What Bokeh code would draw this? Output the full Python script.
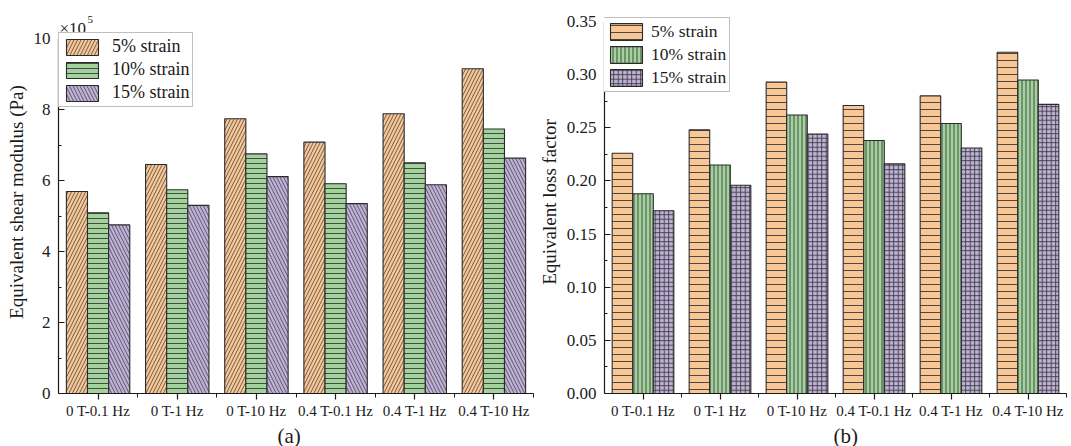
from bokeh.plotting import figure
from bokeh.models import ColumnDataSource, Range1d, FixedTicker, Legend, LegendItem, Label, Title
from bokeh.transform import dodge
from bokeh.layouts import row
from bokeh.embed import file_html
from bokeh.resources import INLINE

categories = ["0 T-0.1 Hz", "0 T-1 Hz", "0 T-10 Hz", "0.4 T-0.1 Hz", "0.4 T-1 Hz", "0.4 T-10 Hz"]
series = ["5% strain", "10% strain", "15% strain"]

# Equivalent shear modulus, in units of 10^5 Pa
shear_5 = [5.69, 6.45, 7.74, 7.08, 7.88, 9.15]
shear_10 = [5.09, 5.74, 6.75, 5.91, 6.50, 7.45]
shear_15 = [4.75, 5.30, 6.11, 5.35, 5.88, 6.63]

# Equivalent loss factor
loss_5 = [0.226, 0.248, 0.293, 0.271, 0.280, 0.321]
loss_10 = [0.188, 0.215, 0.262, 0.238, 0.254, 0.295]
loss_15 = [0.172, 0.196, 0.244, 0.216, 0.231, 0.272]

shear_ticks = [0, 2, 4, 6, 8, 10]
shear_minor = [1, 3, 5, 7, 9]
loss_ticks = [0.00, 0.05, 0.10, 0.15, 0.20, 0.25, 0.30, 0.35]
loss_tick_labels = ["0.00", "0.05", "0.10", "0.15", "0.20", "0.25", "0.30", "0.35"]
loss_minor = [0.025, 0.075, 0.125, 0.175, 0.225, 0.275, 0.325]

FONT = "Liberation Serif"
INK = "#1a1a1a"
FILLS = ["#F9C796", "#A3D39C", "#BFB1D9"]
HATCH = "#3a3a3a"
BAR_W = 0.267

TOP = 10          # shared top border
FRAME_H = 383     # shared frame height

xs = [i + 0.5 for i in range(len(categories))]
x_overrides = {x: c for x, c in zip(xs, categories)}
x_minor = [i for i in range(1, len(categories) + 1)]


def base_fig(fw, bl, br, y_top, axis_px):
    # axis_px: pixel length of the drawn axis (0 .. y_top)
    y_end = y_top * FRAME_H / axis_px
    p = figure(frame_width=fw, frame_height=FRAME_H, output_backend="svg", toolbar_location=None,
               x_range=Range1d(0, len(categories)), y_range=Range1d(0, y_end),
               min_border_left=bl, min_border_right=br, min_border_top=TOP, min_border_bottom=53)
    p.outline_line_color = None
    p.xgrid.visible = False
    p.ygrid.visible = False
    p.background_fill_color = "white"
    p.border_fill_color = "white"
    xa = p.xaxis[0]
    ya = p.yaxis[0]
    xa.ticker = FixedTicker(ticks=xs, minor_ticks=x_minor)
    xa.major_label_overrides = x_overrides
    ya.bounds = (0, y_top)
    for ax in (xa, ya):
        ax.axis_line_color = INK
        ax.axis_line_width = 1.2
        ax.major_tick_line_color = INK
        ax.minor_tick_line_color = INK
        ax.major_tick_line_width = 1.2
        ax.minor_tick_line_width = 1.0
        ax.major_label_text_font = FONT
        ax.major_label_text_color = INK
        ax.axis_label_text_font = FONT
        ax.axis_label_text_font_style = "normal"
        ax.axis_label_text_color = INK
    xa.major_tick_in = 0
    xa.major_tick_out = 6
    xa.minor_tick_in = 0
    xa.minor_tick_out = 4
    ya.major_tick_in = 6
    ya.major_tick_out = 0
    ya.minor_tick_in = 3
    ya.minor_tick_out = 0
    xa.major_label_text_font_size = "15px"
    xa.major_label_standoff = 3
    ya.major_label_text_font_size = "17px"
    ya.major_label_standoff = 8
    ya.axis_label_text_font_size = "19px"
    ya.axis_label_standoff = 4
    return p


def add_bars(p, values, hatches, scales, weights):
    renderers = []
    offsets = [-BAR_W, 0.0, BAR_W]
    for vals, off, fill, hp, hs, hw in zip(values, offsets, FILLS, hatches, scales, weights):
        src = ColumnDataSource(dict(x=xs, top=vals))
        r = p.vbar(x=dodge("x", off), top="top", bottom=0, width=BAR_W, source=src,
                   fill_color=fill, line_color="#2a2a2a", line_width=1.1,
                   hatch_pattern=hp, hatch_color=HATCH, hatch_weight=hw, hatch_scale=hs)
        renderers.append(r)
    return renderers


def add_legend(p, renderers, loc, font_size, gh, standoff):
    items = [LegendItem(label=s, renderers=[r]) for s, r in zip(series, renderers)]
    lg = Legend(items=items, location=loc, margin=0, padding=3, spacing=2,
                glyph_width=40, glyph_height=gh, label_height=gh, label_standoff=standoff,
                label_text_font=FONT, label_text_font_size=font_size, label_text_color=INK,
                border_line_color="#808080", border_line_width=1,
                background_fill_color="white", background_fill_alpha=1.0)
    p.add_layout(lg)


def add_tag(p, text, offset):
    t = Title(text=text, align="left", offset=offset, standoff=0,
              text_font=FONT, text_font_size="21px", text_font_style="normal", text_color=INK)
    p.add_layout(t, "below")


# ---- (a) shear modulus
p1 = base_fig(475, 58, 2, shear_ticks[-1], 355)
p1.yaxis[0].ticker = FixedTicker(ticks=shear_ticks, minor_ticks=shear_minor)
p1.yaxis[0].axis_label = "Equivalent shear modulus (Pa)"
r1 = add_bars(p1, [shear_5, shear_10, shear_15], ["/", "-", "\\"], [7, 5, 7], [0.75, 0.9, 0.75])
add_legend(p1, r1, (0, 286), "18px", 20, 10)
p1.add_layout(Label(x=0, y=shear_ticks[-1], x_offset=1, y_offset=10, text="\u00d710",
                    text_font=FONT, text_font_size="17px", text_color=INK,
                    text_baseline="alphabetic"))
p1.add_layout(Label(x=0, y=shear_ticks[-1], x_offset=29, y_offset=19, text="5",
                    text_font=FONT, text_font_size="11px", text_color=INK,
                    text_baseline="alphabetic"))
add_tag(p1, "(a)", 219)

# ---- (b) loss factor
p2 = base_fig(462, 66, 8, loss_ticks[-1], 372)
p2.yaxis[0].ticker = FixedTicker(ticks=loss_ticks, minor_ticks=loss_minor)
p2.yaxis[0].major_label_overrides = {t: s for t, s in zip(loss_ticks, loss_tick_labels)}
p2.yaxis[0].axis_label = "Equivalent loss factor"
r2 = add_bars(p2, [loss_5, loss_10, loss_15], ["-", "|", "+"], [7, 4, 4.5], [0.9, 0.9, 0.9])
add_legend(p2, r2, (-2, 301), "17.5px", 21, 5)
add_tag(p2, "(b)", 229)

layout = row(p1, p2)
open("out.html", "w").write(file_html(layout, INLINE))
